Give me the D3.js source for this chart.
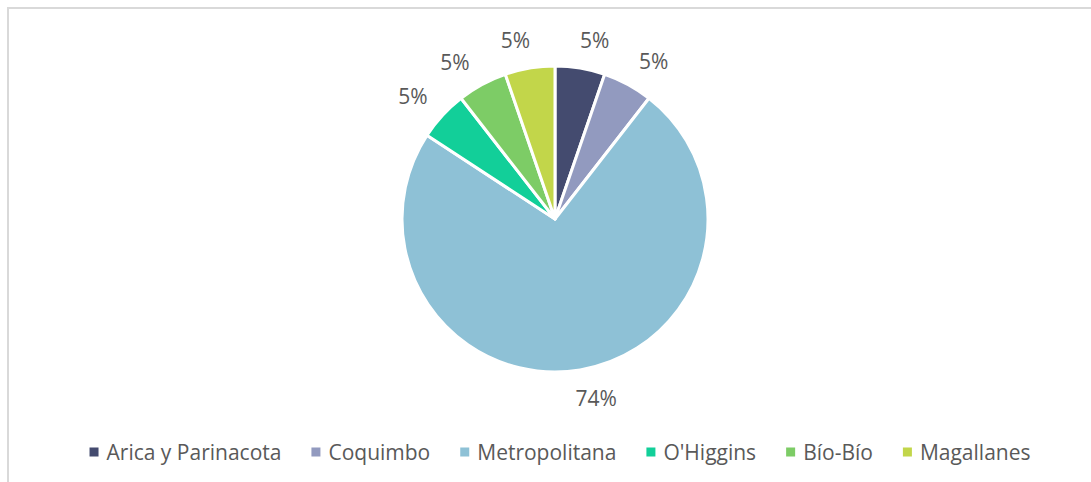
<!DOCTYPE html>
<html>
<head>
<meta charset="utf-8">
<script src="https://cdn.jsdelivr.net/npm/d3@7"></script>
<style>
  body { margin: 0; background: #fff; }
  text { font-family: "Open Sans", "Noto Sans", sans-serif; fill: #595959; }
</style>
</head>
<body>
<div id="chart"></div>
<script>
// regions and counts (shown as percent of total)
const regions = ["Arica y Parinacota", "Coquimbo", "Metropolitana", "O'Higgins", "Bío-Bío", "Magallanes"];
const counts = [1, 1, 14, 1, 1, 1];
const colors = ["#444b6f", "#929abf", "#8ec1d6", "#12cf99", "#7dcc66", "#c2d64a"];

const W = 1091, H = 482;
const cx = 555, cy = 219, radius = 153;
// small angle tweaks (deg) so labels sit where Excel's best-fit put them
const labelShift = [3, 3.5, -3.5, -1.8, -4, -3];

const svg = d3.select("#chart").append("svg")
  .attr("width", W)
  .attr("height", H);

// chart frame
svg.append("rect")
  .attr("x", 8).attr("y", 8)
  .attr("width", W + 40).attr("height", H + 40)
  .attr("fill", "none")
  .attr("stroke", "#d9d9d9")
  .attr("stroke-width", 2);

const total = d3.sum(counts);
const pie = d3.pie().sort(null).value(d => d);
const arcs = pie(counts);
const arc = d3.arc().innerRadius(0).outerRadius(radius);

const g = svg.append("g").attr("transform", `translate(${cx},${cy})`);

g.selectAll("path")
  .data(arcs)
  .enter()
  .append("path")
  .attr("d", arc)
  .attr("fill", (d, i) => colors[i])
  .attr("stroke", "#fff")
  .attr("stroke-width", 3)
  .attr("stroke-linejoin", "round");

// percent labels outside the slices
g.selectAll("text.lbl")
  .data(arcs)
  .enter()
  .append("text")
  .attr("class", "lbl")
  .attr("font-size", 21)
  .attr("text-anchor", "middle")
  .attr("dominant-baseline", "central")
  .attr("transform", (d, i) => {
    const a = (d.startAngle + d.endAngle) / 2 + labelShift[i] * Math.PI / 180;
    const s = Math.sin(a), c = Math.cos(a);
    const r = 172 + Math.abs(s) * 13 + Math.abs(c) * 9;
    return `translate(${s * r},${-c * r})`;
  })
  .text(d => Math.round(d.value / total * 100) + "%");

// legend, centered under the pie
const legend = svg.append("g");
const items = legend.selectAll("g")
  .data(regions)
  .enter()
  .append("g");

items.append("rect")
  .attr("width", 9).attr("height", 9)
  .attr("y", -4.5)
  .attr("fill", (d, i) => colors[i]);

items.append("text")
  .attr("x", 17)
  .attr("font-size", 21)
  .attr("dominant-baseline", "central")
  .text(d => d);

let xPos = 0;
items.each(function () {
  const w = d3.select(this).select("text").node().getComputedTextLength();
  d3.select(this).attr("transform", `translate(${xPos},0)`);
  xPos += 17 + w + 30;
});
const legendWidth = xPos - 30;
legend.attr("transform", `translate(${560 - legendWidth / 2},452)`);
</script>
</body>
</html>
